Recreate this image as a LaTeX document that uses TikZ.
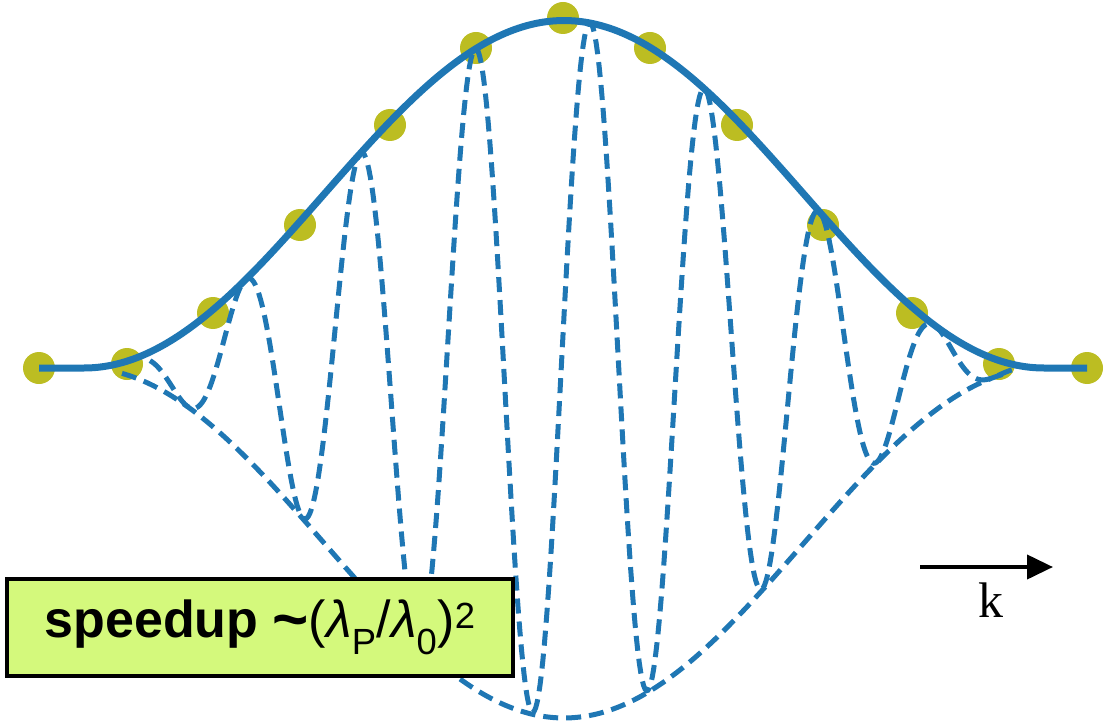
\documentclass[tikz,border=0pt]{standalone}
\usepackage{fontspec}
\setmainfont{Liberation Serif}
\newfontfamily\boxfont{Liberation Sans}
\usetikzlibrary{arrows.meta}
\definecolor{curveblue}{HTML}{1F77B4}
\definecolor{dotolive}{HTML}{BCBD22}
\definecolor{boxgreen}{HTML}{D4F97C}
\begin{document}
\begin{tikzpicture}[x=1pt,y=-1pt,
  envelope/.style={curveblue, line width=7pt},
  dashedwave/.style={curveblue, line width=5pt, dash pattern=on 15pt off 8pt},
  sample/.style={circle, fill=dotolive, minimum size=32pt, inner sep=0pt},
  infobox/.style={draw=black, line width=4pt, fill=boxgreen, minimum width=506pt, minimum height=97pt, inner sep=0pt},
  klabel/.style={font=\fontsize{50}{50}\selectfont, inner sep=0pt, anchor=base}]
\useasboundingbox (0,0) rectangle (1107,727);
% samples
\node[sample] (d1) at (39,368) {};
\node[sample] (d2) at (127,364) {};
\node[sample] (d3) at (213,313) {};
\node[sample] (d4) at (300,225) {};
\node[sample] (d5) at (390,125) {};
\node[sample] (d6) at (476,48) {};
\node[sample] (d7) at (563,18) {};
\node[sample] (d8) at (650,48) {};
\node[sample] (d9) at (737,125) {};
\node[sample] (d10) at (823,225) {};
\node[sample] (d11) at (912,313) {};
\node[sample] (d12) at (999,364) {};
\node[sample] (d13) at (1087,368) {};
% lower envelope
\draw[dashedwave] plot[domain=122:1008, samples=200, smooth]
  (\x,{368+350*cos((\x-564)*0.1875)*cos((\x-564)*0.1875)});
% oscillation
\draw[dashedwave] plot[domain=150:1012, samples=600]
  (\x,{368-348*cos((\x-564)*0.1875)*cos((\x-564)*0.1875)*cos((\x-590)*3.1304)});
% upper envelope
\draw[envelope] (d1.center) -- (84,368) -- plot[domain=84:1044, samples=200, smooth]
  (\x,{368-347.5*cos((\x-564)*0.1875)*cos((\x-564)*0.1875)}) -- (d13.center);
% box
\node[infobox] (box) at (260,627.5) {{\boxfont\fontsize{52}{52}\selectfont\bfseries speedup {\fontsize{62}{62}\selectfont\raisebox{-3pt}{\textasciitilde}}}{\boxfont\fontsize{52}{52}\selectfont(\textit{λ}\textsubscript{P}/\textit{λ}\textsubscript{0})\textsuperscript{2}}};
% k arrow
\coordinate (a0) at (920,567);
\coordinate (a1) at (1053,567);
\draw[line width=4pt, -{Triangle[length=26pt,width=24pt]}] (a0) -- (a1);
\node[klabel] (k) at (991,617) {k};
\end{tikzpicture}
\end{document}
